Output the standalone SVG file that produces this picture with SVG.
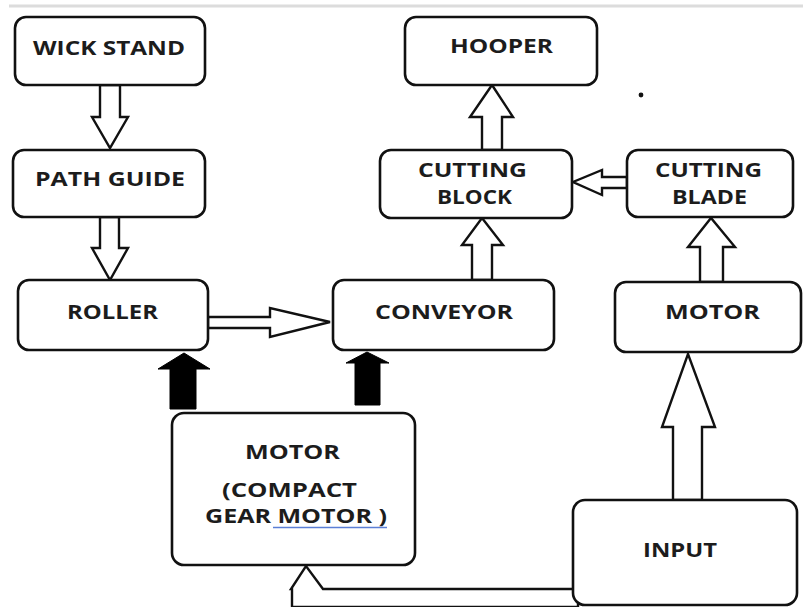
<svg xmlns="http://www.w3.org/2000/svg" width="803" height="607" viewBox="0 0 803 607">
<style>
.box{fill:#fff;stroke:#111;stroke-width:2.6}
.ha{fill:#fff;stroke:#111;stroke-width:2.4;stroke-linejoin:miter}
.ba{fill:#000;stroke:#000;stroke-width:1}
.t{font-family:"Open Sans","Liberation Sans",sans-serif;font-weight:700;font-size:19px;fill:#1c1c1c}
</style>
<rect x="0" y="0" width="803" height="607" fill="#fff"/>
<line x1="9" y1="6" x2="803" y2="6" stroke="#dcdcdc" stroke-width="3"/>
<circle cx="641" cy="95" r="2.4" fill="#111"/>

<g id="connectors">
  <polygon class="ha" points="100,85 120,85 120,117 128,117 110,148 92,117 100,117"/>
  <polygon class="ha" points="100,217 119,217 119,248 128,248 110,280 92,248 100,248"/>
  <polygon class="ha" points="208,317 270,317 270,308 330,322 270,337 270,328 208,328"/>
  <polygon class="ha" points="472,280 472,245 462,245 482,218 503,245 492,245 492,280"/>
  <polygon class="ha" points="482,150 482,117 470,117 492,85 513,117 502,117 502,150"/>
  <polygon class="ha" points="627,177 602,177 602,170 573,182 602,195 602,188 627,188"/>
  <polygon class="ha" points="700,282 700,247 688,247 711,218 735,247 723,247 723,282"/>
  <polygon class="ha" points="673,500 673,427 662,427 688,354 715,427 702,427 702,500"/>
  <polygon class="ha" points="292,607 292,589 291,589 306,566 323,589 578,589 578,607"/>
  <polygon class="ba" points="170,409 170,369 158,369 184,353 210,369 196,369 196,409"/>
  <polygon class="ba" points="355,405 355,363 346,363 367,352 389,363 380,363 380,405"/>
</g>

<g id="wick-stand">
  <rect class="box" x="15" y="17" width="190" height="68" rx="11"/>
  <text class="t" x="33" y="55" textLength="152" lengthAdjust="spacingAndGlyphs">WICK STAND</text>
</g>
<g id="path-guide">
  <rect class="box" x="13" y="150" width="192" height="67" rx="11"/>
  <text class="t" x="35" y="186" textLength="150" lengthAdjust="spacingAndGlyphs">PATH GUIDE</text>
</g>
<g id="roller">
  <rect class="box" x="18" y="280" width="190" height="70" rx="11"/>
  <text class="t" x="67" y="319" textLength="91" lengthAdjust="spacingAndGlyphs">ROLLER</text>
</g>
<g id="conveyor">
  <rect class="box" x="333" y="280" width="221" height="70" rx="11"/>
  <text class="t" x="375" y="319" textLength="138" lengthAdjust="spacingAndGlyphs">CONVEYOR</text>
</g>
<g id="motor-right">
  <rect class="box" x="615" y="282" width="186" height="70" rx="11"/>
  <text class="t" x="665" y="319" textLength="95" lengthAdjust="spacingAndGlyphs">MOTOR</text>
</g>
<g id="hooper">
  <rect class="box" x="405" y="17" width="192" height="68" rx="11"/>
  <text class="t" x="450" y="53" textLength="103" lengthAdjust="spacingAndGlyphs">HOOPER</text>
</g>
<g id="cutting-block">
  <rect class="box" x="380" y="150" width="192" height="68" rx="11"/>
  <text class="t" x="418" y="177" textLength="109" lengthAdjust="spacingAndGlyphs">CUTTING</text>
  <text class="t" x="437" y="204" textLength="75" lengthAdjust="spacingAndGlyphs">BLOCK</text>
</g>
<g id="cutting-blade">
  <rect class="box" x="627" y="150" width="166" height="67" rx="11"/>
  <text class="t" x="655" y="177" textLength="107" lengthAdjust="spacingAndGlyphs">CUTTING</text>
  <text class="t" x="672" y="204" textLength="75" lengthAdjust="spacingAndGlyphs">BLADE</text>
</g>
<g id="motor-compact">
  <rect class="box" x="172" y="413" width="243" height="152" rx="12"/>
  <text class="t" x="245" y="459" textLength="95" lengthAdjust="spacingAndGlyphs">MOTOR</text>
  <text class="t" x="222" y="497" textLength="135" lengthAdjust="spacingAndGlyphs">(COMPACT</text>
  <text class="t" x="205" y="523" textLength="182" lengthAdjust="spacingAndGlyphs">GEAR MOTOR )</text>
  <line x1="273" y1="527.5" x2="387" y2="527.5" stroke="#5b7fd6" stroke-width="1.3"/>
</g>
<g id="input">
  <rect class="box" x="573" y="500" width="224" height="105" rx="12"/>
  <text class="t" x="643" y="557" textLength="74" lengthAdjust="spacingAndGlyphs">INPUT</text>
</g>
</svg>
